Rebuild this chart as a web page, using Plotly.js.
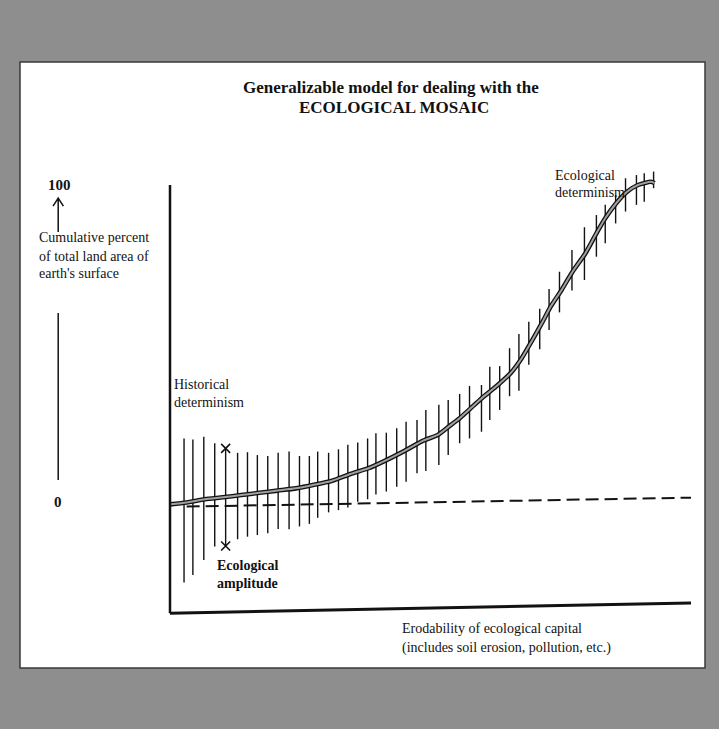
<!DOCTYPE html>
<html><head><meta charset="utf-8">
<script src="https://cdn.plot.ly/plotly-3.0.1.min.js"></script>
<style>html,body{margin:0;padding:0;background:#8e8e8e;}#chart{width:719px;height:729px;}</style>
</head><body><div id="chart"></div>
<script>
// Erodability position of each "ecological amplitude" bar (x, 0..100)
const barX = [2.7,4.4,6.5,8.6,10.7,13.0,14.9,16.8,18.8,20.8,22.9,24.9,26.8,28.4,30.5,32.4,34.2,36.1,38.0,39.6,41.6,43.6,45.4,47.5,49.2,51.7,53.5,55.7,57.6,59.9,61.5,63.4,65.3,67.1,69.0,71.1,72.9,74.9,77.3,79.7,82.0,83.7,85.7,87.6,89.7,91.2,93.0];
// upper and lower end of each bar (cumulative percent)
const barTop = [20.8,20.5,21.3,19.3,17.7,16.3,16.5,15.6,15.3,16.3,16.7,15.3,15.3,16.7,16.3,17.4,18.8,19.5,20.8,22.4,22.6,24.0,26.0,26.6,29.7,31.3,32.8,34.7,37.2,37.5,43.2,43.4,49.0,53.4,57.3,61.3,67.5,72.9,79.7,86.8,90.6,93.8,96.9,102.1,103.1,103.7,104.2];
const barBottom = [-24.2,-21.9,-17.2,-13.0,-12.8,-10.7,-9.9,-9.4,-8.8,-7.5,-7.6,-6.7,-5.9,-4.0,-2.3,-1.6,-0.8,1.0,1.8,3.3,4.2,5.7,7.3,9.9,10.6,12.5,15.6,19.3,20.8,22.9,26.6,29.7,34.0,35.7,43.8,48.7,54.7,60.2,67.0,70.3,77.6,81.8,88.0,91.7,93.8,94.8,99.0];
// main cumulative curve
const curveX = [0,3.2,6.7,10.2,13.7,17.2,20.7,24.2,27.7,31.2,34.7,38.2,41.7,45.2,48.7,51.5,53.6,55.7,57.8,59.9,62.7,65.5,67.6,69.7,71.5,73.2,75.3,77.4,79.9,82.0,83.7,85.8,87.9,90.0,92.5,93.2];
const curveY = [0.2,0.8,1.8,2.4,3.1,3.8,4.5,5.2,6.3,7.6,9.7,11.5,14.1,17.0,20.1,21.9,24.5,27.1,30.2,33.3,37.0,41.2,45.8,51.6,56.8,62.0,67.2,72.9,78.7,84.9,89.6,94.3,97.9,100.0,101.0,100.6];
// dashed reference line
const baseX = [3.2,100.2];
const baseY = [-0.5,2.3];
// which bar carries the amplitude markers
const amplitudeBar = 4;

const segX = [], segY = [];
barX.forEach((x,i)=>{ segX.push(x,x,null); segY.push(barBottom[i],barTop[i],null); });

const W = 719, H = 729;
const px = v => v/W, py = v => 1 - v/H;
const serif = "Liberation Serif, Times New Roman, serif";
const ink = "#121212";

const traces = [
  {x: baseX, y: baseY, mode:'lines', line:{color:ink, width:2, dash:'13px,6px'}, hoverinfo:'skip'},
  {x: segX, y: segY, mode:'lines', line:{color:ink, width:1.4}, connectgaps:false, hoverinfo:'skip'},
  {x: curveX, y: curveY, mode:'lines', line:{color:'#111', width:4.6, shape:'spline', smoothing:0.6}, hoverinfo:'skip'},
  {x: curveX, y: curveY, mode:'lines', line:{color:'#a0a0a0', width:2, shape:'spline', smoothing:0.6}, hoverinfo:'skip'},
  {x: [barX[amplitudeBar], barX[amplitudeBar]], y: [barTop[amplitudeBar], barBottom[amplitudeBar]], mode:'markers',
   marker:{symbol:'x-thin-open', size:9, line:{color:ink, width:1.6}, color:ink}, hoverinfo:'skip'}
];

function txt(t, x, y, opt){
  return Object.assign({text:t, xref:'paper', yref:'paper', x:px(x), y:py(y), showarrow:false,
    xanchor:'left', yanchor:'middle', font:{family:serif, size:14, color:ink}}, opt||{});
}
const annotations = [
  txt('<b>Generalizable model for dealing with the</b>', 391, 88, {xanchor:'center', font:{family:serif, size:17, color:ink}}),
  txt('<b>ECOLOGICAL MOSAIC</b>', 394, 107, {xanchor:'center', font:{family:serif, size:17, color:ink}}),
  txt('<b>100</b>', 59, 185, {xanchor:'center', font:{family:serif, size:15, color:ink}}),
  txt('<b>0</b>', 58, 502, {xanchor:'center', font:{family:serif, size:15, color:ink}}),
  txt('Cumulative percent', 37, 238),
  txt('of total land area of', 37, 256),
  txt("earth's surface", 37, 274),
  txt('Historical', 172, 384),
  txt('determinism', 172, 402),
  txt('<b>Ecological</b>', 215, 565),
  txt('<b>amplitude</b>', 215, 583),
  txt('Ecological', 553, 176),
  txt('determinism', 553, 193),
  txt('Erodability of ecological capital', 400, 628),
  txt('(includes soil erosion, pollution, etc.)', 400, 648)
];

const shapes = [
  {type:'rect', xref:'paper', yref:'paper', x0:px(20), x1:px(705), y0:py(668), y1:py(62),
   fillcolor:'#ffffff', line:{color:'#3a3a3a', width:1.5}, layer:'below'},
  {type:'line', xref:'x', yref:'y', x0:0, y0:-33.8, x1:0, y1:100, line:{color:ink, width:2.5}},
  {type:'line', xref:'x', yref:'y', x0:0, y0:-33.8, x1:100.2, y1:-30.6, line:{color:ink, width:3}},
  {type:'path', xref:'x', yref:'y', path:'M -21.5,85.3 L -21.5,95.9 M -22.5,93.4 L -21.5,95.9 L -20.5,93.4', line:{color:ink, width:1.5}},
  {type:'line', xref:'x', yref:'y', x0:-21.5, y0:60.0, x1:-21.5, y1:7.8, line:{color:ink, width:1.5}}
];

const layout = {
  width:W, height:H, margin:{l:0,r:0,t:0,b:0},
  paper_bgcolor:'#8e8e8e', plot_bgcolor:'rgba(0,0,0,0)', showlegend:false,
  xaxis:{range:[-32.692,105.577], visible:false, fixedrange:true},
  yaxis:{range:[-70,157.8125], visible:false, fixedrange:true},
  shapes, annotations
};
Plotly.newPlot('chart', traces, layout, {staticPlot:true, displayModeBar:false});
</script></body></html>
